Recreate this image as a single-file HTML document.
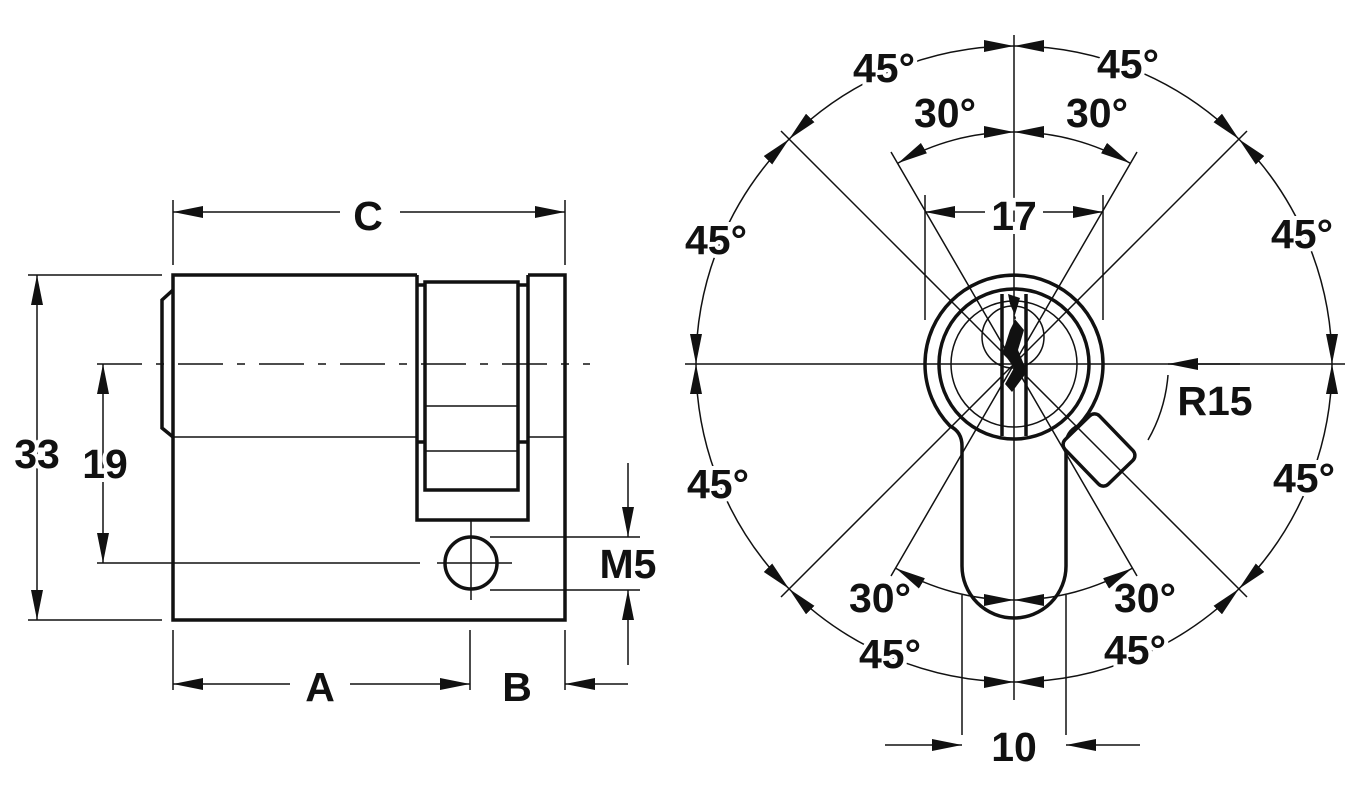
<!DOCTYPE html>
<html><head><meta charset="utf-8"><style>
html,body{margin:0;padding:0;background:#fff;}
svg{display:block;}
text{font-family:"Liberation Sans",Arial,sans-serif;font-weight:bold;font-size:41px;fill:#111;text-anchor:middle;}
</style></head><body>
<svg width="1358" height="804" viewBox="0 0 1358 804" xmlns="http://www.w3.org/2000/svg">
<defs>
<marker id="a" markerWidth="30" markerHeight="12" refX="30" refY="6" orient="auto-start-reverse" markerUnits="userSpaceOnUse">
<path d="M0,0 L30,6 L0,12 Z" fill="#111"/></marker>
</defs>
<g stroke="#111" fill="none" stroke-linecap="butt">
<!-- LEFT VIEW -->
<g stroke-width="3.5">
<path d="M417 275 L173 275 L173 620 L565 620 L565 275 L528 275"/>
<path d="M417 275 L417 520 L528 520 L528 275"/>
<rect x="425" y="282" width="93" height="208"/>
<path d="M173 290 L162 300 L162 428 L173 437"/>
<path d="M417 285 H425 M518 285 H528 M417 442 H425 M518 442 H528"/>
<circle cx="471" cy="563" r="26"/>
</g>
<g stroke-width="1.5">
<path d="M173 437 H417 M528 437 H565 M425 406 H518 M425 451 H518"/>
<path d="M97 364 H590" stroke-dasharray="45 14 8 14"/>
<path d="M97 563 H420 M437 563 H512 M471 520 V600"/>
<path d="M28 275 H162 M28 620 H162"/>
<path d="M37 275 V620" marker-start="url(#a)" marker-end="url(#a)"/>
<path d="M103 364 V563" marker-start="url(#a)" marker-end="url(#a)"/>
<path d="M490 537 H640 M490 590 H640"/>
<path d="M628 463 V537" marker-end="url(#a)"/>
<path d="M628 665 V590" marker-end="url(#a)"/>
<path d="M173 200 V265 M565 200 V265"/>
<path d="M340 212 H173" marker-end="url(#a)"/>
<path d="M400 212 H565" marker-end="url(#a)"/>
<path d="M173 630 V690 M470 630 V690 M565 630 V690"/>
<path d="M290 684 H173" marker-end="url(#a)"/>
<path d="M350 684 H470" marker-end="url(#a)"/>
<path d="M628 684 H565" marker-end="url(#a)"/>
</g>

<!-- RIGHT VIEW -->
<g stroke-width="3.5">
<path d="M1078 426 A89 89 0 1 0 950 426 Q962 432 962 446 L962 566 A52 52 0 0 0 1066 566 L1066 446 Q1066 432 1078 426"/>
<rect x="-31" y="-24" width="62" height="48" rx="7" transform="translate(1099 450) rotate(46)" fill="#fff"/>
<circle cx="1014" cy="364" r="75"/>
<path d="M1002 294 V436 M1026 294 V436"/>
</g>
<g stroke-width="1.5">
<path d="M1014 35 V700"/>
<path d="M685 364 H1345"/>
<path d="M781 131 L1247 597 M1247 131 L781 597"/>
<path d="M891 152 L1137 576 M1137 152 L891 576"/>
<path d="M1014 46 A318 318 0 0 0 789.1 139.1" marker-start="url(#a)" marker-end="url(#a)"/>
<path d="M1014 46 A318 318 0 0 1 1238.9 139.1" marker-start="url(#a)" marker-end="url(#a)"/>
<path d="M789.1 139.1 A318 318 0 0 0 696 364" marker-start="url(#a)" marker-end="url(#a)"/>
<path d="M1238.9 139.1 A318 318 0 0 1 1332 364" marker-start="url(#a)" marker-end="url(#a)"/>
<path d="M696 364 A318 318 0 0 0 789.1 588.9" marker-start="url(#a)" marker-end="url(#a)"/>
<path d="M1332 364 A318 318 0 0 1 1238.9 588.9" marker-start="url(#a)" marker-end="url(#a)"/>
<path d="M789.1 588.9 A318 318 0 0 0 1014 682" marker-start="url(#a)" marker-end="url(#a)"/>
<path d="M1238.9 588.9 A318 318 0 0 1 1014 682" marker-start="url(#a)" marker-end="url(#a)"/>
<path d="M1014 132 A232 232 0 0 0 898 163.1" marker-start="url(#a)" marker-end="url(#a)"/>
<path d="M1014 132 A232 232 0 0 1 1130 163.1" marker-start="url(#a)" marker-end="url(#a)"/>
<path d="M896 568.4 A236 236 0 0 0 1014 600" marker-start="url(#a)" marker-end="url(#a)"/>
<path d="M1132 568.4 A236 236 0 0 1 1014 600" marker-start="url(#a)" marker-end="url(#a)"/>
<path d="M1240 364 H1168" marker-end="url(#a)"/>
<path d="M1168 375 A155 155 0 0 1 1148 440"/>
<path d="M925 195 V320 M1103 195 V320"/>
<path d="M985 212 H925" marker-end="url(#a)"/>
<path d="M1043 212 H1103" marker-end="url(#a)"/>
<path d="M962 595 V735 M1066 595 V735"/>
<path d="M885 745 H962" marker-end="url(#a)"/>
<path d="M1140 745 H1066" marker-end="url(#a)"/>
<circle cx="1014" cy="364" r="63"/>
<circle cx="1013" cy="337" r="31"/>
</g>
<path d="M1008 294 L1020 298 L1014 318 L1024 330 L1018 350 L1027 372 L1012 392 L1005 384 L1014 368 L1003 352 L1010 330 L1016 318 L1010 304 Z" fill="#111" stroke="none"/>
</g>

<g style="paint-order:stroke" stroke="#fff" stroke-width="8">
<text x="368" y="230">C</text>
<text x="37" y="468">33</text>
<text x="105" y="478">19</text>
<text x="628" y="578">M5</text>
<text x="320" y="701">A</text>
<text x="517" y="701">B</text>
<text x="884" y="82">45°</text>
<text x="1128" y="78">45°</text>
<text x="716" y="254">45°</text>
<text x="1302" y="248">45°</text>
<text x="718" y="498">45°</text>
<text x="1304" y="492">45°</text>
<text x="890" y="668">45°</text>
<text x="1135" y="664">45°</text>
<text x="945" y="127">30°</text>
<text x="1097" y="127">30°</text>
<text x="880" y="612">30°</text>
<text x="1145" y="612">30°</text>
<text x="1014" y="230">17</text>
<text x="1014" y="761">10</text>
<text x="1215" y="415">R15</text>
</g>
</svg>
</body></html>
